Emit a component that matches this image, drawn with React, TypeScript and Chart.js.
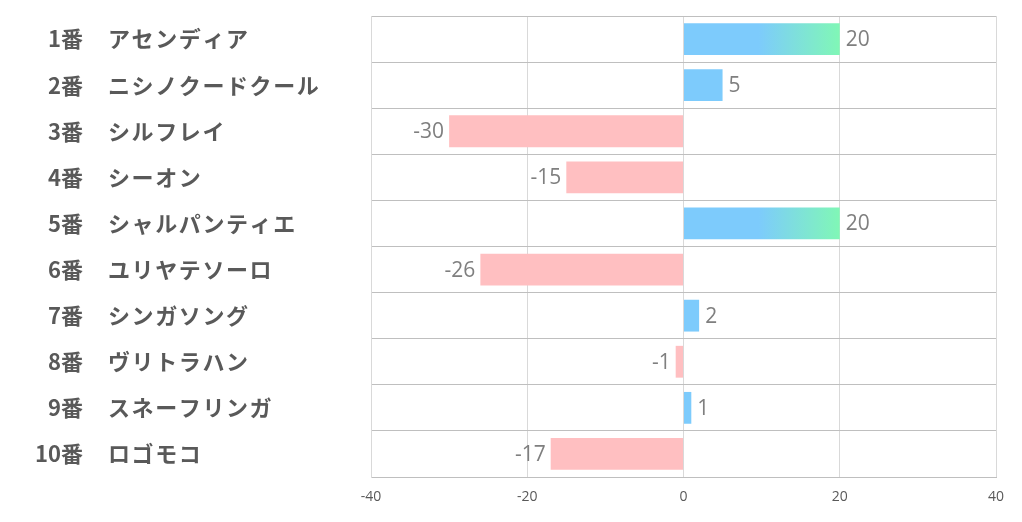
import React, { useEffect, useRef } from "react";
import { Chart, registerables } from "chart.js";

Chart.register(...registerables);

const numbers = ["1番", "2番", "3番", "4番", "5番", "6番", "7番", "8番", "9番", "10番"];
const names = ["アセンディア", "ニシノクードクール", "シルフレイ", "シーオン", "シャルパンティエ", "ユリヤテソーロ", "シンガソング", "ヴリトラハン", "スネーフリンガ", "ロゴモコ"];
const values = [20, 5, -30, -15, 20, -26, 2, -1, 1, -17];
const xTicks = [-40, -20, 0, 20, 40];

const BLUE = "#7dcbfc";
const GREEN = "#80f7b6";
const PINK = "#ffbfc1";

export default function App() {
  const ref = useRef<HTMLCanvasElement>(null);
  useEffect(() => {
    document.body.style.margin = "0";
    const canvas = ref.current!;
    const labelPlugin = {
      id: "customLabels",
      afterDraw(chart: any) {
        const ctx = chart.ctx;
        const y = chart.scales.y;
        const x = chart.scales.x;
        ctx.save();
        ctx.textBaseline = "middle";
        ctx.fillStyle = "#595959";
        ctx.font = "bold 22px 'Noto Sans CJK JP', 'Noto Sans', sans-serif";
        numbers.forEach((n, i) => {
          const py = y.getPixelForValue(i);
          (ctx as any).letterSpacing = "0px";
          ctx.textAlign = "right";
          ctx.fillText(n, 83, py);
          (ctx as any).letterSpacing = "1.6px";
          ctx.textAlign = "left";
          ctx.fillText(names[i], 108, py);
        });
        (ctx as any).letterSpacing = "0px";
        ctx.font = "21px 'Open Sans', 'Noto Sans', sans-serif";
        ctx.fillStyle = "#7f7f7f";
        values.forEach((v, i) => {
          const py = y.getPixelForValue(i);
          const px = x.getPixelForValue(v);
          if (v >= 0) {
            ctx.textAlign = "left";
            ctx.fillText(String(v), px + 6, py + 1);
          } else {
            ctx.textAlign = "right";
            ctx.fillText(String(v), px - 5, py + 1);
          }
        });
        ctx.restore();
      },
    };
    const chart = new Chart(canvas, {
      type: "bar",
      data: {
        labels: numbers.map((n, i) => n + " " + names[i]),
        datasets: [
          {
            data: values,
            backgroundColor: (c: any) => {
              const v = values[c.dataIndex];
              if (v < 0) return PINK;
              const ch = c.chart;
              const xs = ch.scales.x;
              if (!xs || !ch.chartArea) return BLUE;
              const x0 = xs.getPixelForValue(0);
              const x1 = xs.getPixelForValue(20);
              const g = ch.ctx.createLinearGradient(x0, 0, x1, 0);
              g.addColorStop(0, BLUE);
              g.addColorStop(0.48, BLUE);
              g.addColorStop(1, GREEN);
              return g;
            },
            barPercentage: 0.69,
            categoryPercentage: 1,
          },
        ],
      },
      options: {
        indexAxis: "y",
        animation: false,
        responsive: false,
        maintainAspectRatio: false,
        layout: { padding: { top: 16, right: 26, left: 0, bottom: 0 } },
        plugins: { legend: { display: false }, tooltip: { enabled: false } },
        scales: {
          x: {
            min: -40,
            max: 40,
            afterBuildTicks: (s: any) => {
              s.ticks = xTicks.map((v) => ({ value: v }));
            },
            afterFit: (s: any) => {
              s.height = 45;
            },
            grid: { color: "#d9d9d9", drawTicks: false, lineWidth: 1 },
            border: { color: "#bfbfbf" },
            ticks: {
              padding: 12,
              color: "#595959",
              font: { size: 14, family: "'Open Sans', 'Noto Sans', sans-serif" },
            },
          },
          y: {
            afterFit: (s: any) => {
              s.width = 371;
            },
            grid: { color: "#bfbfbf", drawTicks: false, offset: true },
            border: { color: "#d9d9d9" },
            ticks: { display: false },
          },
        },
      },
      plugins: [labelPlugin],
    });
    return () => chart.destroy();
  }, []);
  return <canvas ref={ref} width={1022} height={522} style={{ display: "block" }} />;
}
